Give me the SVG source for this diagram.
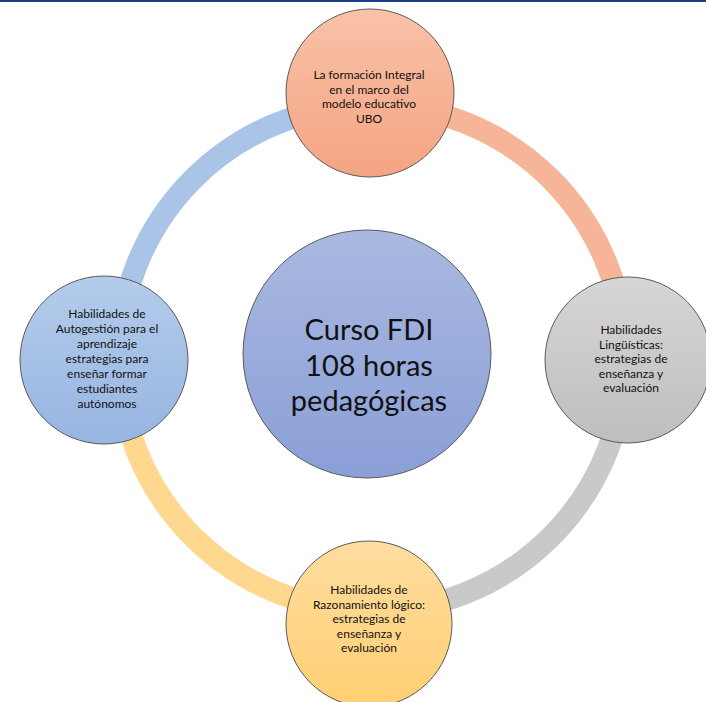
<svg xmlns="http://www.w3.org/2000/svg" width="706" height="702" viewBox="0 0 706 702">
  <style>
    .node { stroke: #5a5a5a; stroke-width: 1; }
    .ring { fill: none; stroke-width: 22; }
    .lbl { font-family: Lato, "Liberation Sans", sans-serif; font-size: 12px; fill: #111; text-anchor: middle; }
    .big { font-family: Lato, "Liberation Sans", sans-serif; font-size: 29px; fill: #111; text-anchor: middle; }
  </style>
  <defs>
    <linearGradient id="gSalmon" x1="0" y1="0" x2="0" y2="1"><stop offset="0" stop-color="#F9C2A8"/><stop offset="1" stop-color="#F4A482"/></linearGradient>
    <linearGradient id="gGrey" x1="0" y1="0" x2="0" y2="1"><stop offset="0" stop-color="#D6D6D6"/><stop offset="1" stop-color="#BEBEBE"/></linearGradient>
    <linearGradient id="gYellow" x1="0" y1="0" x2="0" y2="1"><stop offset="0" stop-color="#FFDDA0"/><stop offset="1" stop-color="#FFCF72"/></linearGradient>
    <linearGradient id="gBlue" x1="0" y1="0" x2="0" y2="1"><stop offset="0" stop-color="#B4CCEB"/><stop offset="1" stop-color="#97B5E1"/></linearGradient>
    <linearGradient id="gCenter" x1="0" y1="0" x2="0" y2="1"><stop offset="0" stop-color="#AAB9E1"/><stop offset="1" stop-color="#8A9FD7"/></linearGradient>
  </defs>
  <rect x="0" y="0" width="706" height="702" fill="#ffffff"/>
  <rect x="0" y="0" width="706" height="2" fill="#1F3F8A"/>

  <g id="connectors">
    <path class="ring" stroke="#F6B598" d="M372,105 A253,253 0 0 1 625,358"/>
    <path class="ring" stroke="#C9C9C9" d="M625,358 A253,253 0 0 1 372,611"/>
    <path class="ring" stroke="#FFD88F" d="M372,611 A253,253 0 0 1 119,358"/>
    <path class="ring" stroke="#AAC4E8" d="M119,358 A253,253 0 0 1 372,105"/>
  </g>

  <g id="center">
    <circle class="node" cx="367" cy="354" r="124" fill="url(#gCenter)"/>
    <text class="big" x="369" y="340">Curso FDI</text>
    <text class="big" x="369" y="376">108 horas</text>
    <text class="big" x="369" y="411">pedagógicas</text>
  </g>

  <g id="top">
    <circle class="node" cx="370" cy="93" r="84" fill="url(#gSalmon)"/>
    <text class="lbl" x="369" y="79">La formación Integral</text>
    <text class="lbl" x="369" y="93.5">en el marco del</text>
    <text class="lbl" x="369" y="108">modelo educativo</text>
    <text class="lbl" x="369" y="122.5">UBO</text>
  </g>

  <g id="right">
    <circle class="node" cx="628" cy="360" r="83" fill="url(#gGrey)"/>
    <text class="lbl" x="631" y="334">Habilidades</text>
    <text class="lbl" x="631" y="348.5">Lingüísticas:</text>
    <text class="lbl" x="631" y="363">estrategias de</text>
    <text class="lbl" x="631" y="377.5">enseñanza y</text>
    <text class="lbl" x="631" y="392">evaluación</text>
  </g>

  <g id="bottom">
    <circle class="node" cx="369" cy="624" r="83" fill="url(#gYellow)"/>
    <text class="lbl" x="369" y="594">Habilidades de</text>
    <text class="lbl" x="369" y="608.5">Razonamiento lógico:</text>
    <text class="lbl" x="369" y="623">estrategias de</text>
    <text class="lbl" x="369" y="637.5">enseñanza y</text>
    <text class="lbl" x="369" y="652">evaluación</text>
  </g>

  <g id="left">
    <circle class="node" cx="104" cy="360" r="84" fill="url(#gBlue)"/>
    <text class="lbl" x="107" y="317.5">Habilidades de</text>
    <text class="lbl" x="107" y="332.5">Autogestión para el</text>
    <text class="lbl" x="107" y="347.5">aprendizaje</text>
    <text class="lbl" x="107" y="362.5">estrategias para</text>
    <text class="lbl" x="107" y="377.5">enseñar formar</text>
    <text class="lbl" x="107" y="392.5">estudiantes</text>
    <text class="lbl" x="107" y="407.5">autónomos</text>
  </g>
</svg>
